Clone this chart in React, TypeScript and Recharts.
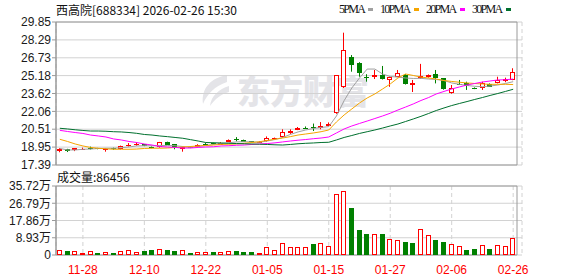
import { ComposedChart, Bar, Line, XAxis, YAxis, CartesianGrid, ReferenceArea } from 'recharts';

const dates = [
  '11-25', '11-26', '11-27', '11-28', '12-01', '12-02', '12-03', '12-04', '12-05', '12-08',
  '12-09', '12-10', '12-11', '12-12', '12-15', '12-16', '12-17', '12-18', '12-19', '12-22',
  '12-23', '12-24', '12-25', '12-26', '12-29', '12-30', '12-31', '01-05', '01-06', '01-07',
  '01-08', '01-09', '01-12', '01-13', '01-14', '01-15', '01-16', '01-19', '01-20', '01-21',
  '01-22', '01-23', '01-26', '01-27', '01-28', '01-29', '01-30', '02-02', '02-03', '02-04',
  '02-05', '02-06', '02-09', '02-10', '02-11', '02-12', '02-13', '02-24', '02-25', '02-26',
];

const opens = [
  18.65, 18.78, 18.66, 18.8, 18.85, 18.84, 18.76, 18.87, 18.78, 19.12,
  19.18, 19.2, 18.99, 18.92, 19.4, 19.2, 18.9, 18.98, 19.0, 19.24,
  19.33, 19.2, 19.42, 19.65, 19.57, 19.45, 19.4, 19.45, 19.7, 19.86,
  20.3, 20.45, 20.65, 20.68, 20.72, 20.79, 21.9, 24.16, 26.83, 26.3,
  25.07, 25.03, 25.2, 24.8, 25.1, 25.25, 24.45, 24.95, 25.05, 25.3,
  24.94, 23.66, 24.47, 24.5, 24.12, 24.07, 24.42, 24.51, 24.7, 24.8,
];
const highs = [
  18.85, 18.8, 18.86, 18.9, 18.99, 18.88, 18.83, 18.9, 19.08, 19.3,
  19.37, 19.22, 19.0, 19.4, 19.42, 19.22, 19.0, 19.0, 19.2, 19.3,
  19.35, 19.37, 19.62, 19.82, 19.6, 19.47, 19.46, 19.88, 19.78, 20.5,
  20.5, 20.7, 20.75, 21.0, 21.13, 21.1, 25.2, 28.92, 26.97, 26.35,
  25.3, 25.67, 26.02, 25.1, 25.67, 25.3, 24.8, 26.2, 25.28, 25.67,
  24.97, 24.36, 24.8, 24.65, 24.15, 24.65, 24.5, 25.08, 25.0, 25.82,
];
const lows = [
  18.5, 18.52, 18.6, 18.72, 18.74, 18.76, 18.55, 18.72, 18.74, 19.0,
  19.07, 19.03, 18.85, 18.9, 19.15, 18.76, 18.55, 18.86, 18.98, 19.15,
  19.18, 19.18, 19.4, 19.45, 19.4, 19.37, 19.37, 19.42, 19.6, 19.78,
  20.1, 20.43, 20.6, 20.35, 20.5, 20.77, 21.85, 24.1, 25.52, 25.08,
  24.65, 24.88, 24.84, 24.2, 25.05, 24.4, 23.75, 24.9, 25.0, 24.5,
  23.95, 23.6, 24.36, 23.93, 24.0, 23.93, 24.2, 24.5, 24.6, 24.78,
];
const closes = [
  18.82, 18.61, 18.83, 18.82, 18.82, 18.8, 18.78, 18.76, 19.05, 19.15,
  19.2, 19.05, 18.9, 19.36, 19.17, 18.95, 18.93, 18.88, 19.17, 19.21,
  19.2, 19.35, 19.6, 19.62, 19.42, 19.4, 19.42, 19.74, 19.74, 20.27,
  20.38, 20.62, 20.62, 20.64, 20.76, 21.0, 25.2, 27.41, 26.1, 25.38,
  25.03, 25.2, 24.86, 25.08, 25.38, 24.45, 24.55, 25.14, 25.23, 24.93,
  23.98, 24.12, 24.42, 24.3, 24.02, 24.5, 24.22, 24.8, 24.88, 25.52,
];

const ma5 = [
  18.83, 18.7, 18.7, 18.76, 18.78, 18.83, 18.85, 18.85, 18.9, 18.96,
  19.05, 19.07, 19.07, 19.09, 19.09, 19.07, 19.0, 18.92, 19.0, 19.09,
  19.18, 19.26, 19.33, 19.4, 19.42, 19.4, 19.37, 19.48, 19.61, 19.79,
  20.05, 20.27, 20.44, 20.57, 20.66, 20.73, 21.66, 23.0, 24.1, 24.97,
  25.75, 25.75, 25.32, 25.1, 25.05, 24.97, 24.93, 24.94, 24.88, 24.84,
  24.75, 24.54, 24.42, 24.32, 24.25, 24.21, 24.27, 24.36, 24.49, 24.65,
];
const ma10 = [
  19.63, 19.44, 19.22, 19.05, 18.92, 18.85, 18.8, 18.76, 18.76, 18.76,
  18.78, 18.83, 18.85, 18.85, 18.87, 18.92, 18.96, 19.0, 19.05, 19.09,
  19.13, 19.18, 19.2, 19.22, 19.28, 19.35, 19.42, 19.53, 19.63, 19.74,
  19.86, 20.0, 20.09, 20.18, 20.29, 20.44, 21.14, 21.75, 22.27, 22.79,
  23.23, 23.58, 24.01, 24.45, 24.97, 25.32, 25.19, 25.05, 24.97, 24.88,
  24.75, 24.67, 24.6, 24.54, 24.49, 24.45, 24.42, 24.42, 24.42, 24.4,
];
const ma20 = [
  20.41, 20.31, 20.22, 20.14, 20.0, 19.92, 19.83, 19.66, 19.57, 19.44,
  19.35, 19.22, 19.13, 19.0, 18.96, 18.92, 18.87, 18.87, 18.92, 18.96,
  18.98, 19.05, 19.07, 19.11, 19.13, 19.18, 19.22, 19.26, 19.32, 19.4,
  19.48, 19.55, 19.61, 19.68, 19.74, 19.83, 20.18, 20.53, 20.79, 21.01,
  21.22, 21.44, 21.66, 21.9, 22.18, 22.44, 22.71, 23.01, 23.27, 23.58,
  23.8, 24.01, 24.19, 24.36, 24.49, 24.62, 24.71, 24.8, 24.82, 24.88,
];
const ma30 = [
  20.59, 20.53, 20.46, 20.4, 20.35, 20.35, 20.33, 20.29, 20.27, 20.22,
  20.15, 20.05, 20.0, 19.92, 19.86, 19.79, 19.72, 19.6, 19.48, 19.35,
  19.33, 19.31, 19.28, 19.26, 19.24, 19.22, 19.2, 19.18, 19.15, 19.13,
  19.18, 19.24, 19.28, 19.31, 19.35, 19.37, 19.57, 19.79, 19.96, 20.14,
  20.29, 20.44, 20.61, 20.79, 20.96, 21.18, 21.4, 21.63, 21.88, 22.14,
  22.36, 22.57, 22.75, 22.92, 23.1, 23.27, 23.45, 23.62, 23.8, 23.99,
];

const volumes = [
  26000, 21000, 20500, 10000, 20000, 10500, 16000, 10500, 20000, 24000,
  16000, 22000, 26000, 33000, 26000, 20500, 24000, 12000, 16000, 16500,
  16000, 16000, 20000, 22000, 17500, 17000, 10000, 40000, 26000, 60000,
  40000, 39000, 40000, 57000, 62000, 47000, 316000, 331000, 245000, 129000,
  110000, 109000, 110000, 83000, 78000, 69000, 64000, 133000, 104000, 79000,
  69000, 57000, 47000, 26000, 31000, 50000, 31000, 50000, 47000, 86456,
];
// r = red (up) volume bar, g = green (down)
const volDir = 'rgrrrgrgrrrggrggrgrrgrrgggrrrr' + 'rrrgrrrrgggrgrrggrrggrrggrgrrr';

const priceTicks = [29.85, 28.29, 26.73, 25.18, 23.62, 22.06, 20.51, 18.95, 17.39];
const volTicks = [0, 89300, 178600, 267900, 357200];
const dateTicks = ['11-28', '12-10', '12-22', '01-05', '01-15', '01-27', '02-06', '02-26'];

const UP = '#ff0000';
const DOWN = '#008000';
const GRID = '#d2d2d2';
const BORDER = '#9a9a9a';

const rows = dates.map((date, i) => ({
  date,
  open: opens[i],
  high: highs[i],
  low: lows[i],
  close: closes[i],
  ma5: ma5[i],
  ma10: ma10[i],
  ma20: ma20[i],
  ma30: ma30[i],
  vol: volumes[i],
  volUp: volDir[i] === 'r',
}));

const Candle = (props: any) => {
  const { x, y, width, height, payload } = props;
  const { open, close, high, low } = payload;
  const up = close >= open;
  const color = up ? UP : DOWN;
  const top = Math.min(y, y + height);
  const h = Math.abs(height);
  const k = h / (high - low);
  const left = Math.round(x + width / 2 - 2.5);
  const cx = left + 2.5;
  const bt = Math.round(top + (high - Math.max(open, close)) * k);
  const bb = Math.round(top + (high - Math.min(open, close)) * k);
  return (
    <g>
      <line x1={cx} x2={cx} y1={top} y2={top + h} stroke={color} strokeWidth={1} />
      {bb - bt < 1 ? (
        <line x1={left} x2={left + 5} y1={bt + 0.5} y2={bt + 0.5} stroke={color} strokeWidth={1} />
      ) : up ? (
        <rect x={left + 0.5} y={bt + 0.5} width={4} height={Math.max(bb - bt - 1, 1)} fill="#fff" stroke={color} strokeWidth={1} />
      ) : (
        <rect x={left} y={bt} width={5} height={bb - bt} fill={color} />
      )}
    </g>
  );
};

const VolBar = (props: any) => {
  const { x, y, width, height, payload } = props;
  const left = Math.round(x + width / 2 - 2.5);
  const top = Math.round(y);
  const bottom = Math.round(y + height);
  if (payload.volUp) {
    return <rect x={left + 0.5} y={top + 0.5} width={4} height={Math.max(bottom - top - 1, 1)} fill="#fff" stroke={UP} strokeWidth={1} />;
  }
  return <rect x={left} y={top} width={5} height={bottom - top} fill={DOWN} />;
};

const fmtVol = (v: number) => (v === 0 ? '0' : `${(v / 10000).toFixed(2)}万`);

const legendItems = [
  { label: '5PMA', color: '#a0a0a0', left: 339 },
  { label: '10PMA', color: '#f5a500', left: 380 },
  { label: '20PMA', color: '#ff00ff', left: 426 },
  { label: '30PMA', color: '#00702e', left: 472 },
];

const axisTick = { fill: '#1a1a1a', fontSize: 12 };

export default function App() {
  return (
    <div
      style={{
        position: 'absolute',
        left: 0,
        top: 0,
        width: 578,
        height: 276,
        background: '#fff',
        fontFamily: "'Liberation Sans', 'Noto Sans CJK SC', sans-serif",
        overflow: 'hidden',
      }}
    >
      {/* watermark */}
      <div style={{ position: 'absolute', left: 197, top: 72, display: 'flex', alignItems: 'center', color: '#e4e4e8' }}>
        <svg width={36} height={36} viewBox="0 0 36 36">
          <path d="M30 3 C14 6 4 16 6 32 C10 22 18 14 30 10 Z" fill="#e4e4e8" />
          <path d="M32 14 C22 17 14 24 13 34 C18 27 24 22 32 20 Z" fill="#e4e4e8" />
        </svg>
        <span
          style={{
            marginLeft: 4,
            fontFamily: "'Noto Sans CJK SC', sans-serif",
            fontSize: 33,
            fontWeight: 900,
            lineHeight: '36px',
          }}
        >
          东方财富
        </span>
      </div>

      <div
        style={{
          position: 'absolute',
          left: 56,
          top: 1,
          fontSize: 12,
          color: '#111',
          fontFamily: "'Noto Sans CJK SC', sans-serif",
          whiteSpace: 'nowrap',
        }}
      >
        西高院[688334] 2026-02-26 15:30
      </div>

      {legendItems.map((it) => (
        <div
          key={it.label}
          style={{
            position: 'absolute',
            left: it.left,
            top: 2,
            display: 'flex',
            alignItems: 'center',
            fontSize: 12,
            color: '#111',
            fontFamily: "'Liberation Serif', serif",
            letterSpacing: -1.7,
            whiteSpace: 'nowrap',
          }}
        >
          <span>{it.label}</span>
          <span style={{ display: 'inline-block', width: 5, height: 3, background: it.color, marginLeft: 4 }} />
        </div>
      ))}

      <div style={{ position: 'absolute', left: 0, top: 0 }}>
        <ComposedChart width={578} height={176} data={rows} margin={{ top: 22, right: 56, bottom: 11, left: 0 }}>
          <CartesianGrid vertical={false} stroke={GRID} />
          <CartesianGrid horizontal={false} stroke={GRID} strokeDasharray="4 3" />
          <XAxis
            dataKey="date"
            ticks={dateTicks}
            interval={0}
            height={0}
            tick={false}
            tickLine={false}
            axisLine={false}
            padding={{ left: 0, right: 5 }}
          />
          <YAxis
            domain={[17.39, 29.85]}
            ticks={priceTicks}
            interval={0}
            width={56}
            tickSize={4}
            tickMargin={1}
            stroke={BORDER}
            tick={axisTick}
            tickFormatter={(v: number) => v.toFixed(2)}
            allowDataOverflow
          />
          <ReferenceArea y1={17.39} y2={29.85} fill="none" stroke={BORDER} strokeWidth={1} />
          <Bar
            dataKey={(d: any) => [d.low, d.high]}
            barSize={5}
            shape={(p: any) => <Candle {...p} />}
            isAnimationActive={false}
          />
          <Line dataKey="ma5" stroke="#a0a0a0" strokeWidth={1} dot={false} isAnimationActive={false} />
          <Line dataKey="ma10" stroke="#f5a500" strokeWidth={1} dot={false} isAnimationActive={false} />
          <Line dataKey="ma20" stroke="#ff00ff" strokeWidth={1} dot={false} isAnimationActive={false} />
          <Line dataKey="ma30" stroke="#00702e" strokeWidth={1} dot={false} isAnimationActive={false} />
        </ComposedChart>
      </div>

      <div
        style={{
          position: 'absolute',
          left: 57,
          top: 168,
          fontSize: 12,
          color: '#111',
          fontFamily: "'Noto Sans CJK SC', sans-serif",
        }}
      >
        成交量:86456
      </div>

      <div style={{ position: 'absolute', left: 0, top: 165 }}>
        <ComposedChart width={578} height={111} data={rows} margin={{ top: 21, right: 56, bottom: 0, left: 0 }}>
          <CartesianGrid vertical={false} stroke={GRID} />
          <CartesianGrid horizontal={false} stroke={GRID} strokeDasharray="4 3" />
          <XAxis
            dataKey="date"
            ticks={dateTicks}
            interval={0}
            height={21}
            tickLine={false}
            axisLine={false}
            tickMargin={4}
            tick={{ fill: UP, fontSize: 12 }}
            padding={{ left: 0, right: 5 }}
          />
          <YAxis
            domain={[0, 357200]}
            ticks={volTicks}
            interval={0}
            width={56}
            tickSize={4}
            tickMargin={1}
            stroke={BORDER}
            tick={axisTick}
            tickFormatter={fmtVol}
            allowDataOverflow
          />
          <ReferenceArea y1={0} y2={357200} fill="none" stroke={BORDER} strokeWidth={1} />
          <Bar dataKey="vol" barSize={5} shape={(p: any) => <VolBar {...p} />} isAnimationActive={false} />
        </ComposedChart>
      </div>
    </div>
  );
}
